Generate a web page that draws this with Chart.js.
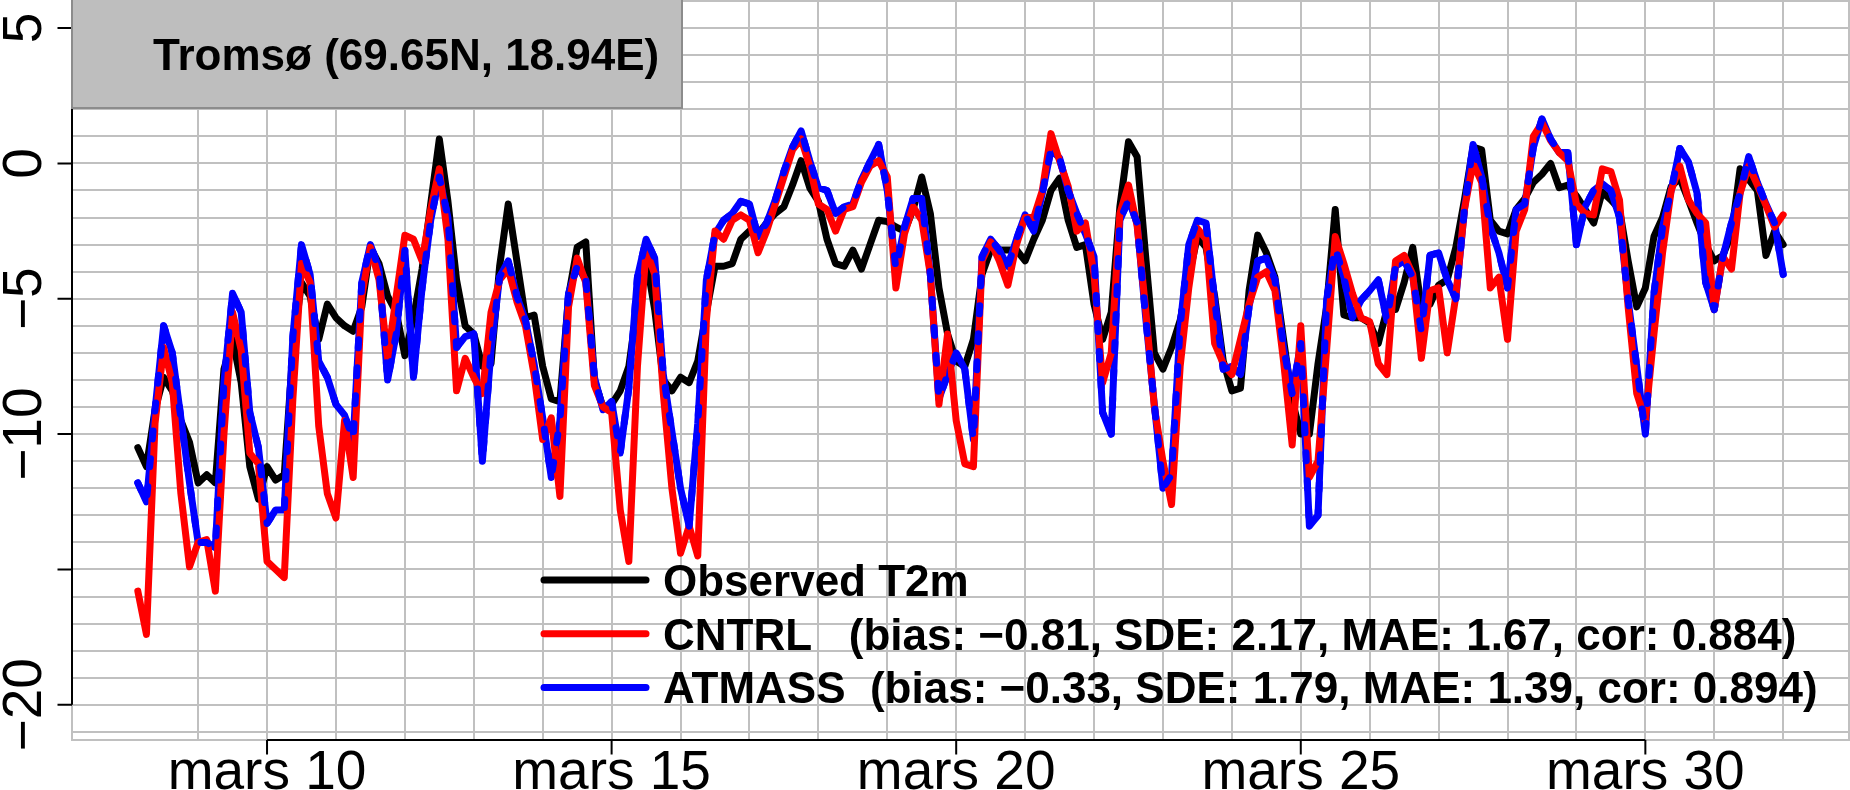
<!DOCTYPE html>
<html>
<head>
<meta charset="utf-8">
<script src="https://cdn.jsdelivr.net/npm/chart.js@4.4.1/dist/chart.umd.min.js"></script>
<style>
  html, body { margin: 0; padding: 0; background: #fff; overflow: hidden; }
  canvas { display: block; }
</style>
</head>
<body>
<canvas id="t2mChart" width="1850" height="790" style="width:1850px;height:790px"></canvas>
<script>
// 2 m temperature at Tromsø, 3-hourly from 8 March 03 UTC to 1 April 00 UTC
const startDay = 8.125;   // day of March of the first value
const stepDay = 0.125;    // 3 hours

// one row = one day (8 values)
const obsT2m = [
  -10.5, -11.2, -9.1, -7.9, -8.4, -9.5, -10.3, -11.8,
  -11.5, -11.8, -7.6, -6.5, -8.1, -11.2, -12.4, -11.2,
  -11.7, -11.5, -6.9, -4.4, -4.9, -6.5, -5.2, -5.7,
  -6.0, -6.2, -5.3, -3.1, -3.7, -4.9, -5.5, -7.1,
  -5.7, -3.9, -1.5, 0.9, -1.4, -4.3, -6.0, -6.3,
  -7.5, -7.4, -3.8, -1.5, -3.6, -5.7, -5.6, -7.5,
  -8.7, -8.8, -4.9, -3.1, -2.9, -8.0, -9.0, -8.9,
  -8.4, -7.5, -5.2, -3.5, -5.4, -8.0, -8.4, -7.9,
  -8.1, -7.3, -5.5, -3.8, -3.8, -3.7, -2.8, -2.5,
  -2.6, -2.2, -1.85, -1.6, -0.8, 0.1, -0.9, -1.4,
  -2.8, -3.7, -3.8, -3.2, -3.9, -3.0, -2.1, -2.15,
  -2.35, -2.5, -1.7, -0.5, -1.85, -4.6, -6.3, -7.3,
  -7.5, -6.5, -4.1, -3.2, -3.2, -3.2, -3.2, -3.6,
  -2.8, -2.1, -1.0, -0.55, -2.1, -3.1, -3.0, -5.2,
  -6.5, -5.5, -1.6, 0.8, 0.25, -3.45, -7.0, -7.6,
  -6.8, -5.8, -4.2, -2.7, -3.1, -4.9, -7.3, -8.4,
  -8.3, -4.7, -2.65, -3.3, -4.2, -6.5, -8.75, -10.0,
  -10.0, -7.4, -5.3, -1.7, -5.6, -5.7, -5.7, -5.9,
  -6.65, -5.4, -5.4, -4.4, -3.1, -5.3, -5.2, -4.5,
  -4.3, -3.1, -1.35, 0.6, 0.5, -2.1, -2.5, -2.6,
  -1.7, -1.3, -0.7, -0.4, 0.0, -0.9, -0.8, -1.2,
  -1.7, -2.2, -1.05, -1.35, -1.7, -3.6, -5.3, -4.6,
  -2.7, -2.0, -0.85, -0.55, -1.35, -2.2, -3.0, -3.6,
  -3.4, -2.6, -0.2, -0.6, -1.0, -3.4, -2.5, -3.0
];

const cntrl = [
  -15.8, -17.4, -9.6, -6.8, -8.1, -12.2, -14.9, -14.0,
  -13.9, -15.8, -10.0, -5.5, -6.9, -10.7, -11.1, -14.7,
  -15.0, -15.3, -8.7, -3.7, -4.4, -9.7, -12.2, -13.1,
  -9.5, -11.6, -4.9, -3.1, -4.3, -7.2, -4.9, -2.65,
  -2.8, -3.6, -1.7, -0.2, -2.8, -8.4, -7.2, -7.9,
  -8.5, -5.5, -4.3, -3.9, -5.1, -6.0, -7.8, -10.2,
  -9.4, -12.3, -5.3, -3.5, -4.4, -8.2, -9.0, -9.2,
  -12.8, -14.7, -7.5, -3.2, -4.1, -8.5, -12.0, -14.4,
  -13.4, -14.5, -5.8, -2.5, -2.8, -2.1, -1.9, -2.1,
  -3.3, -2.5, -1.5, -0.5, 0.5, 0.9, -0.1, -1.5,
  -1.7, -2.5, -1.7, -1.6, -0.7, -0.1, 0.1, -0.5,
  -4.6, -2.6, -1.6, -2.1, -4.1, -8.9, -6.3, -9.5,
  -11.1, -11.2, -3.6, -2.9, -3.6, -4.5, -3.0, -2.0,
  -2.0, -1.0, 1.1, 0.1, -0.85, -2.5, -2.2, -4.1,
  -8.1, -7.0, -1.85, -0.8, -2.3, -5.4, -9.0, -11.0,
  -12.6, -7.5, -4.6, -2.4, -2.8, -6.65, -7.4, -7.8,
  -6.5, -5.2, -4.2, -4.0, -4.7, -7.3, -10.4, -6.0,
  -11.6, -11.0, -6.9, -2.7, -3.7, -4.8, -5.7, -5.85,
  -7.4, -7.8, -3.6, -3.4, -4.1, -7.2, -4.7, -4.6,
  -7.0, -4.9, -1.7, 0.0, -0.7, -4.6, -4.2, -6.5,
  -2.5, -1.7, 1.0, 1.5, 0.85, 0.4, 0.1, -1.5,
  -1.85, -1.9, -0.2, -0.3, -1.35, -5.3, -8.5, -9.5,
  -6.3, -3.3, -1.0, -0.1, -1.35, -1.85, -2.2, -5.4,
  -3.45, -3.9, -1.1, -0.1, -0.8, -1.55, -2.35, -1.9
];

const atmass = [
  -11.8, -12.5, -9.1, -6.0, -7.0, -9.4, -11.8, -14.0,
  -14.0, -14.2, -8.1, -4.8, -5.5, -9.2, -10.5, -13.3,
  -12.8, -12.8, -6.4, -3.0, -4.1, -7.3, -7.9, -8.9,
  -9.3, -10.2, -4.4, -3.0, -3.9, -8.0, -6.3, -3.2,
  -7.9, -4.6, -2.1, -0.5, -2.0, -6.8, -6.4, -6.3,
  -11.0, -6.9, -4.2, -3.6, -4.9, -5.8, -7.4, -9.4,
  -11.6, -9.5, -4.8, -3.8, -4.3, -7.9, -9.1, -8.8,
  -10.7, -8.3, -4.2, -2.8, -3.5, -7.8, -9.9, -12.0,
  -13.4, -9.6, -4.3, -2.6, -2.1, -1.85, -1.4, -1.5,
  -2.7, -2.2, -1.35, -0.3, 0.6, 1.2, 0.1, -0.9,
  -1.0, -1.85, -1.6, -1.5, -0.6, 0.06, 0.7, -1.0,
  -3.9, -2.35, -1.3, -1.3, -4.1, -8.7, -7.8, -7.0,
  -7.6, -10.2, -3.45, -2.8, -3.2, -3.8, -2.8, -1.9,
  -2.5, -1.1, 0.5, 0.2, -1.0, -1.85, -2.6, -3.45,
  -9.2, -10.0, -2.1, -1.35, -2.2, -5.7, -8.9, -12.0,
  -11.5, -6.0, -3.0, -2.1, -2.2, -5.05, -7.6, -7.5,
  -7.8, -5.3, -3.6, -3.5, -4.3, -6.8, -8.5, -6.65,
  -13.4, -13.0, -5.05, -3.1, -4.2, -5.7, -5.05, -4.7,
  -4.3, -5.8, -3.8, -3.6, -4.2, -6.2, -3.4, -3.3,
  -4.3, -5.0, -1.7, 0.7, -0.5, -2.35, -3.3, -4.6,
  -1.7, -1.5, 0.6, 1.65, 0.9, 0.4, 0.4, -3.0,
  -1.6, -1.0, -0.75, -1.0, -2.0, -5.05, -7.5, -10.0,
  -4.8, -2.35, -1.0, 0.55, 0.06, -1.1, -4.4, -5.4,
  -3.45, -2.2, -1.1, 0.25, -0.7, -1.5, -2.2, -4.1
];

const xTickDays = [10, 15, 20, 25, 30];
const xTickLabels = ["mars 10", "mars 15", "mars 20", "mars 25", "mars 30"];
const yTickValues = [-20, -15, -10, -5, 0, 5];
const yTickLabels = ["\u221220", "", "\u221210", "\u22125", "0", "5"];

const titleText = "Tromsø (69.65N, 18.94E)";
const legendLabels = [
  "Observed T2m",
  "CNTRL   (bias: \u22120.81, SDE: 2.17, MAE: 1.67, cor: 0.884)",
  "ATMASS  (bias: \u22120.33, SDE: 1.79, MAE: 1.39, cor: 0.894)"
];
const lineColors = ["#000000", "#ff0000", "#0000ff"];

const gridColor = "#c0c0c0";
const fontFamily = '"Liberation Sans", Arial, Helvetica, sans-serif';
const lineW = 7;

const toPoints = (vals) => vals.map((v, i) => ({ x: startDay + i * stepDay, y: v }));

const lineDataset = (label, vals, color, order, dash) => ({
  label: label,
  data: toPoints(vals),
  borderColor: color,
  backgroundColor: color,
  borderWidth: lineW,
  borderJoinStyle: "round",
  borderCapStyle: "round",
  borderDash: dash || [],
  pointRadius: 0,
  pointHoverRadius: 0,
  tension: 0,
  fill: false,
  order: order
});

// R style axes, title box and legend
const rFrame = {
  id: "rFrame",
  beforeDatasetsDraw(chart) {
    const { ctx, chartArea: a } = chart;
    ctx.save();
    ctx.strokeStyle = gridColor;
    ctx.lineWidth = 2;
    ctx.strokeRect(a.left, a.top, a.right - a.left, a.bottom - a.top);
    ctx.restore();
  },
  afterDraw(chart) {
    const { ctx, chartArea: a } = chart;
    const xs = chart.scales.x;
    const ys = chart.scales.y;
    const tick = 14.5;
    ctx.save();
    ctx.strokeStyle = "#000";
    ctx.fillStyle = "#000";
    ctx.lineWidth = 2;
    ctx.lineCap = "butt";

    // y axis
    ctx.beginPath();
    ctx.moveTo(a.left, ys.getPixelForValue(yTickValues[0]));
    ctx.lineTo(a.left, ys.getPixelForValue(yTickValues[yTickValues.length - 1]));
    yTickValues.forEach((v) => {
      const py = ys.getPixelForValue(v);
      ctx.moveTo(a.left - tick, py);
      ctx.lineTo(a.left, py);
    });
    // x axis
    ctx.moveTo(xs.getPixelForValue(xTickDays[0]), a.bottom);
    ctx.lineTo(xs.getPixelForValue(xTickDays[xTickDays.length - 1]), a.bottom);
    xTickDays.forEach((d) => {
      const px = xs.getPixelForValue(d);
      ctx.moveTo(px, a.bottom);
      ctx.lineTo(px, a.bottom + tick);
    });
    ctx.stroke();

    ctx.font = "55px " + fontFamily;
    ctx.textAlign = "center";
    ctx.textBaseline = "alphabetic";
    yTickValues.forEach((v, i) => {
      if (!yTickLabels[i]) return;
      ctx.save();
      ctx.translate(41, ys.getPixelForValue(v));
      ctx.rotate(-Math.PI / 2);
      ctx.fillText(yTickLabels[i], 0, 0);
      ctx.restore();
    });
    xTickDays.forEach((d, i) => {
      ctx.fillText(xTickLabels[i], xs.getPixelForValue(d), 789);
    });

    // title box, top left
    ctx.fillStyle = "#bebebe";
    ctx.fillRect(a.left, 0, 682 - a.left, 108);
    ctx.strokeStyle = "#8c8c8c";
    ctx.lineWidth = 2;
    ctx.strokeRect(a.left, -2, 682 - a.left, 110);
    ctx.fillStyle = "#000";
    ctx.font = "bold 44px " + fontFamily;
    ctx.textAlign = "left";
    ctx.fillText(titleText, 153, 70);

    // legend, no frame
    legendLabels.forEach((label, i) => {
      const base = 596 + i * 53.7;
      ctx.strokeStyle = lineColors[i];
      ctx.lineWidth = lineW;
      ctx.lineCap = "round";
      ctx.beginPath();
      ctx.moveTo(544, base - 16);
      ctx.lineTo(646, base - 16);
      ctx.stroke();
      ctx.fillStyle = "#000";
      ctx.fillText(label, 663, base);
    });
    ctx.restore();
  }
};

const ctx = document.getElementById("t2mChart").getContext("2d");

const t2mChart = new Chart(ctx, {
  type: "line",
  data: {
    datasets: [
      lineDataset("Observed T2m", obsT2m, lineColors[0], 4),
      lineDataset("ATMASS", atmass, lineColors[2], 3),
      lineDataset("CNTRL", cntrl, lineColors[1], 2),
      // ATMASS again, dashed, so it shows where it lies on top of CNTRL
      lineDataset("ATMASS dashed", atmass, lineColors[2], 1, [8, 20])
    ]
  },
  options: {
    responsive: false,
    animation: false,
    devicePixelRatio: 1,
    layout: { padding: { left: 72, right: 1, top: 1, bottom: 50 } },
    plugins: { legend: { display: false }, tooltip: { enabled: false } },
    scales: {
      x: {
        type: "linear",
        min: 7.17,
        max: 32.955,
        afterFit: (s) => { s.height = 0; },
        border: { display: false },
        ticks: { display: false, stepSize: 1, includeBounds: false },
        grid: {
          lineWidth: 2,
          drawTicks: false,
          color: (c) => (c.tick && c.tick.value >= 9 ? gridColor : "rgba(0,0,0,0)")
        }
      },
      y: {
        type: "linear",
        min: -21.3,
        max: 6,
        afterFit: (s) => { s.width = 0; },
        border: { display: false },
        ticks: { display: false, stepSize: 1, includeBounds: false },
        grid: { lineWidth: 2, drawTicks: false, color: gridColor }
      }
    }
  },
  plugins: [rFrame]
});
</script>
</body>
</html>
